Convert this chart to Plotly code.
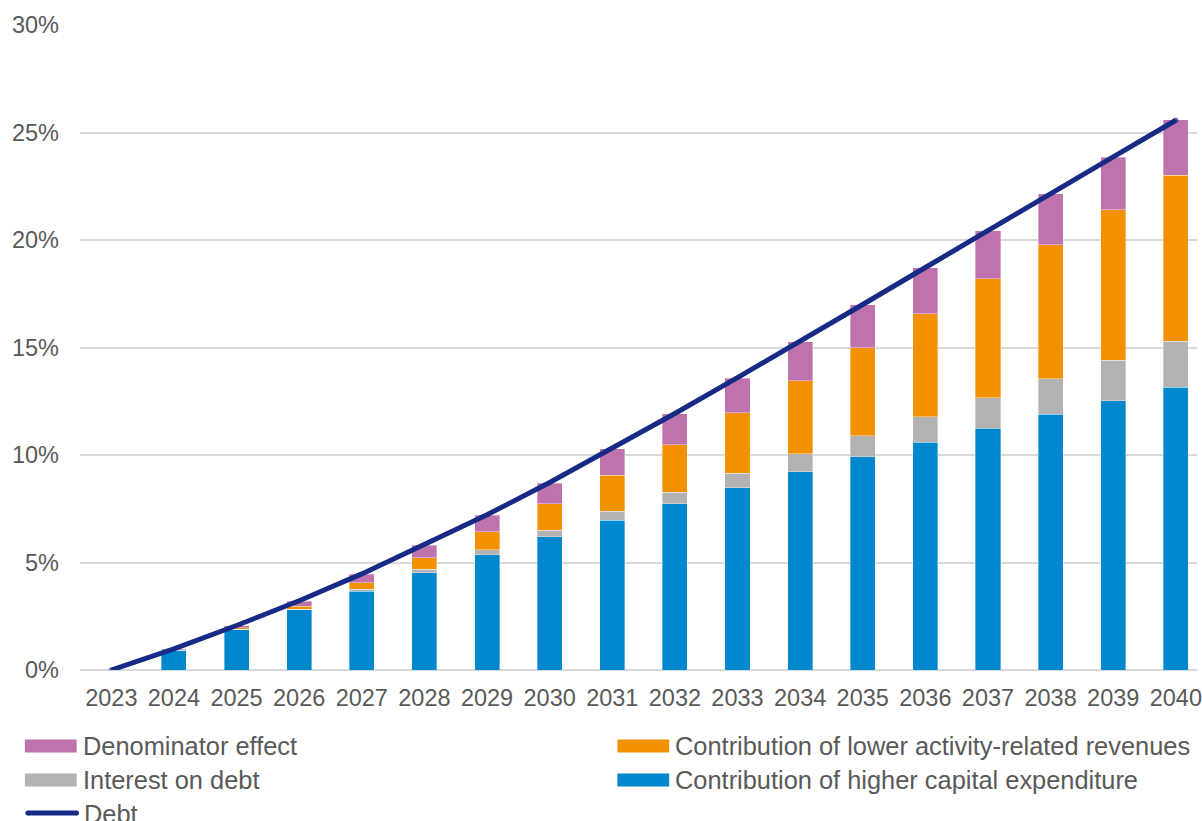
import plotly.graph_objects as go

# Contributions to the change in debt (percentage points), by year
years = [2023, 2024, 2025, 2026, 2027, 2028, 2029, 2030, 2031,
         2032, 2033, 2034, 2035, 2036, 2037, 2038, 2039, 2040]
capex = [0.0, 0.92, 1.87, 2.80, 3.67, 4.53, 5.35, 6.19, 6.97,
         7.73, 8.48, 9.22, 9.91, 10.59, 11.24, 11.90, 12.52, 13.14]
interest = [0.0, 0.01, 0.02, 0.03, 0.08, 0.16, 0.25, 0.30, 0.42,
            0.54, 0.68, 0.83, 0.99, 1.20, 1.43, 1.65, 1.88, 2.15]
revenues = [0.0, 0.02, 0.08, 0.14, 0.30, 0.54, 0.84, 1.24, 1.68,
            2.21, 2.80, 3.40, 4.10, 4.78, 5.52, 6.24, 7.01, 7.73]
denominator = [0.0, 0.03, 0.08, 0.23, 0.40, 0.58, 0.75, 0.96, 1.21,
               1.43, 1.62, 1.81, 1.98, 2.14, 2.24, 2.35, 2.45, 2.57]
debt = [0.0, 0.98, 2.07, 3.22, 4.47, 5.83, 7.22, 8.72, 10.30,
        11.93, 13.60, 15.28, 17.00, 18.72, 20.45, 22.15, 23.87, 25.57]
y_ticks = [0, 5, 10, 15, 20, 25, 30]

BLUE = "#0088cf"
GREY = "#b2b2b2"
ORANGE = "#f39200"
PINK = "#be73ad"
NAVY = "#172a86"
TEXT = "#595959"
GRID = "#d9d9d9"
FONT = "Liberation Sans, Arial, sans-serif"
FS_TICK = 23.5
FS_LEG = 25.4

W, H = 1202, 821
STEP = 62.88          # pixels per year on the category axis
L, T = 111.8 - STEP / 2, 25
PW, PH = W - L, 645
B = H - T - PH

fig = go.Figure()

bar_series = [
    ("Contribution of higher capital expenditure", capex, BLUE),
    ("Interest on debt", interest, GREY),
    ("Contribution of lower activity-related revenues", revenues, ORANGE),
    ("Denominator effect", denominator, PINK),
]
for name, vals, col in bar_series:
    fig.add_trace(go.Bar(
        x=years, y=vals, name=name, width=0.4,
        marker=dict(color=col, line=dict(color="rgba(255,255,255,0.45)", width=0.8)),
        showlegend=False,
    ))

end_sizes = [5 if i in (0, len(debt) - 1) else 0 for i in range(len(debt))]
fig.add_trace(go.Scatter(
    x=years, y=debt, name="Debt", mode="lines+markers",
    line=dict(color=NAVY, width=5),
    marker=dict(color=NAVY, size=end_sizes, line=dict(width=0)),
    showlegend=False,
))


def px_to_paper(px, py):
    return (px - L) / PW, (T + PH - py) / PH


# Legend drawn below the plot: two columns of swatches and labels
legend_items = [
    ("Denominator effect", PINK, 25, 746),
    ("Interest on debt", GREY, 25, 780),
    ("Contribution of lower activity-related revenues", ORANGE, 620, 746),
    ("Contribution of higher capital expenditure", BLUE, 620, 780),
]
shapes = []
annotations = []
for label, col, x0, yc in legend_items:
    ax0, ay0 = px_to_paper(x0, yc - 6.5)
    ax1, ay1 = px_to_paper(x0 + 52, yc + 6.5)
    shapes.append(dict(type="rect", xref="paper", yref="paper",
                       x0=ax0, x1=ax1, y0=ay1, y1=ay0,
                       fillcolor=col, line=dict(width=0)))
    tx, ty = px_to_paper(x0 + 56, yc)
    annotations.append(dict(text=label, xref="paper", yref="paper", x=tx, y=ty,
                            xanchor="left", yanchor="middle", showarrow=False,
                            font=dict(family=FONT, size=FS_LEG, color=TEXT)))

# Debt legend entry: thick rounded line
lx0, ly = px_to_paper(28, 813)
lx1, _ = px_to_paper(77, 813)
shapes.append(dict(type="line", xref="paper", yref="paper",
                   x0=lx0, x1=lx1, y0=ly, y1=ly, line=dict(color=NAVY, width=5)))
for cx in (28, 77):
    c0x, c0y = px_to_paper(cx - 2.5, 813 - 2.5)
    c1x, c1y = px_to_paper(cx + 2.5, 813 + 2.5)
    shapes.append(dict(type="circle", xref="paper", yref="paper",
                       x0=c0x, x1=c1x, y0=c1y, y1=c0y,
                       fillcolor=NAVY, line=dict(width=0)))
tx, ty = px_to_paper(82, 814)
annotations.append(dict(text="Debt", xref="paper", yref="paper", x=tx, y=ty,
                        xanchor="left", yanchor="middle", showarrow=False,
                        font=dict(family=FONT, size=FS_LEG, color=TEXT)))

x_span = PW / STEP
fig.update_layout(
    barmode="stack",
    width=W, height=H,
    margin=dict(l=L, r=0, t=T, b=B, pad=0),
    paper_bgcolor="white", plot_bgcolor="white",
    font=dict(family=FONT, size=FS_TICK, color=TEXT),
    showlegend=False,
    shapes=shapes,
    annotations=annotations,
    xaxis=dict(
        range=[2022.5, 2022.5 + x_span],
        tickmode="array", tickvals=years, ticktext=[str(y) for y in years],
        showgrid=False, zeroline=False, showline=False, ticks="",
        ticklabelstandoff=11, ticklabeloverflow="allow",
        tickfont=dict(family=FONT, size=FS_TICK, color=TEXT),
    ),
    yaxis=dict(
        range=[0, 30],
        tickmode="array", tickvals=y_ticks, ticktext=[f"{v}%" for v in y_ticks],
        showgrid=True, gridcolor=GRID, gridwidth=2,
        zeroline=True, zerolinecolor=GRID, zerolinewidth=2,
        showline=False, ticks="",
        ticklabelstandoff=20,
        tickfont=dict(family=FONT, size=FS_TICK, color=TEXT),
    ),
)

fig.write_html("out.html")
